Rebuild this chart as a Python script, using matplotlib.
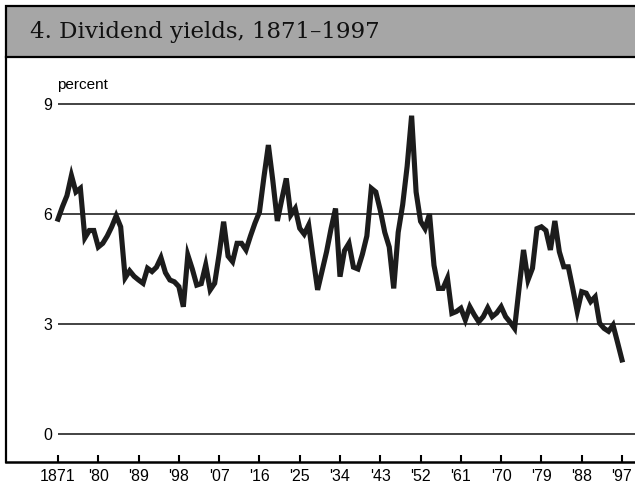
import matplotlib
matplotlib.use("Agg")
import matplotlib.pyplot as plt
from matplotlib.patches import Rectangle

# Annual dividend yield, percent, 1871-1997
years = list(range(1871, 1998))
dividend_yield = [
    5.86, 6.20, 6.50, 7.05, 6.60, 6.70, 5.35, 5.55, 5.55, 5.10,  # 1871-1880
    5.20, 5.40, 5.65, 5.95, 5.65, 4.26, 4.45, 4.30, 4.20, 4.11,  # 1881-1890
    4.52, 4.43, 4.55, 4.81, 4.40, 4.20, 4.15, 4.02, 3.47, 4.88,  # 1891-1900
    4.50, 4.06, 4.10, 4.61, 3.93, 4.11, 4.90, 5.79, 4.85, 4.70,  # 1901-1910
    5.20, 5.20, 5.02, 5.40, 5.75, 6.05, 7.00, 7.88, 6.90, 5.81,  # 1911-1920
    6.40, 6.97, 5.97, 6.15, 5.61, 5.45, 5.70, 4.80, 3.93, 4.45,  # 1921-1930
    4.97, 5.60, 6.15, 4.29, 5.00, 5.20, 4.55, 4.50, 4.90, 5.40,  # 1931-1940
    6.70, 6.60, 6.10, 5.50, 5.10, 3.97, 5.50, 6.25, 7.30, 8.68,  # 1941-1950
    6.60, 5.80, 5.60, 6.00, 4.60, 3.97, 3.97, 4.25, 3.29, 3.34,  # 1951-1960
    3.43, 3.11, 3.47, 3.25, 3.06, 3.20, 3.44, 3.20, 3.30, 3.47,  # 1961-1970
    3.20, 3.05, 2.88, 3.97, 5.02, 4.20, 4.52, 5.60, 5.65, 5.55,  # 1971-1980
    5.02, 5.81, 4.97, 4.56, 4.56, 3.97, 3.34, 3.88, 3.84, 3.61,  # 1981-1990
    3.74, 3.02, 2.88, 2.80, 2.97, 2.50, 2.02,                    # 1991-1997
]

x_ticks = list(range(1871, 1998, 9))
x_labels = ["1871", "'80", "'89", "'98", "'07", "'16", "'25", "'34",
            "'43", "'52", "'61", "'70", "'79", "'88", "'97"]
y_ticks = [0, 3, 6, 9]
title = "4. Dividend yields, 1871\u20131997"

W, H = 635, 487
fig = plt.figure(figsize=(W / 100, H / 100), dpi=100)
fig.patch.set_facecolor("white")

# axes box in pixels: left 6, right 635, top 57, bottom 462
ax = fig.add_axes([6 / W, (H - 462) / H, (W - 6) / W, (462 - 57) / H])
px_per_year = 4.476
px_per_unit = 36.67
ax.set_xlim(1871 - 52 / px_per_year, 1997 + 13 / px_per_year)
ax.set_ylim(-28 / px_per_unit, (434 - 57) / px_per_unit)

for spine in ["top", "right"]:
    ax.spines[spine].set_visible(False)
ax.spines["left"].set_linewidth(1.6)
ax.spines["bottom"].set_linewidth(1.8)

# horizontal rules
ax.hlines(y_ticks, 1871, ax.get_xlim()[1], colors="#222222", linewidth=1.2, zorder=1)

ax.plot(years, dividend_yield, color="#1c1c1c", linewidth=3.7,
        solid_joinstyle="miter", zorder=3)

ax.set_xticks(x_ticks)
ax.set_xticklabels(x_labels, family="Liberation Sans", fontsize=11.5)
ax.tick_params(axis="x", direction="in", length=5, width=1.5, pad=5, color="black")
ax.set_yticks(y_ticks)
ax.set_yticklabels([str(v) for v in y_ticks], family="Liberation Sans", fontsize=11.5)
ax.tick_params(axis="y", length=0, pad=-33)

ax.text(1871 - 1 / px_per_year, (434 - 85) / px_per_unit, "percent",
        family="Liberation Sans", fontsize=11, ha="left", va="center")

# title bar
fig.patches.append(Rectangle((6 / W, (H - 57) / H), (W - 6) / W + 0.01, 51 / H,
                             transform=fig.transFigure, facecolor="#a6a6a6",
                             edgecolor="black", linewidth=1.6, zorder=0))
fig.text(30 / W, (H - 32) / H, title, family="DejaVu Serif", fontsize=16.5,
         ha="left", va="center", color="#111111")

fig.savefig("out.png", dpi=100)
